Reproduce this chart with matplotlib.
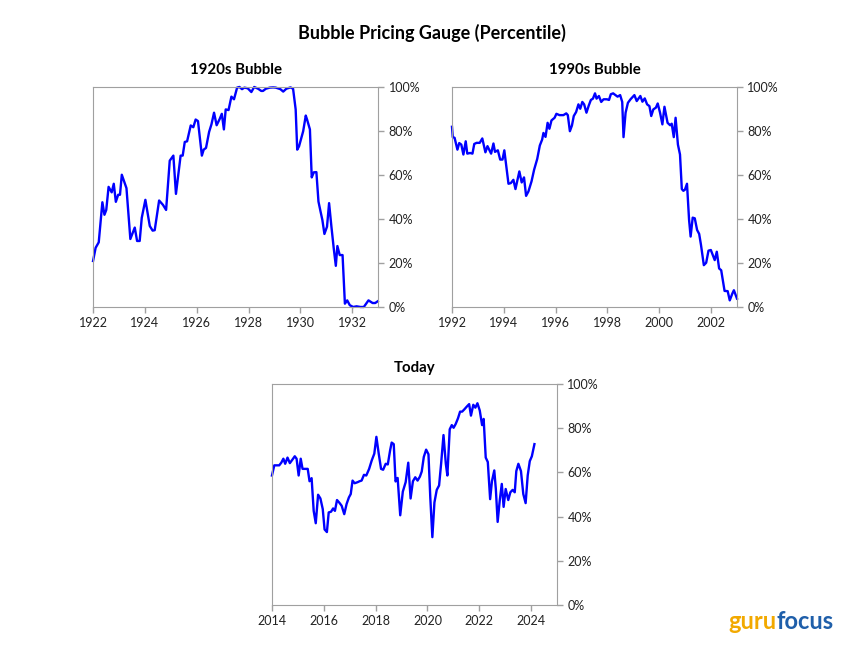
import matplotlib.pyplot as plt
from matplotlib.ticker import PercentFormatter

plt.rcParams['font.family'] = ['Lato', 'DejaVu Sans']

# 1920s bubble (decimal year, percentile)
yr_1920s = [1922.00, 1922.10, 1922.22, 1922.36, 1922.44, 1922.51, 1922.60, 1922.72, 1922.80, 1922.88,
            1922.97, 1923.04, 1923.11, 1923.29, 1923.44, 1923.61, 1923.70, 1923.80, 1923.88, 1924.02,
            1924.19, 1924.30, 1924.38, 1924.55, 1924.70, 1924.82, 1924.96, 1925.10, 1925.20, 1925.38,
            1925.46, 1925.54, 1925.63, 1925.77, 1925.87, 1925.96, 1926.05, 1926.20, 1926.27, 1926.36,
            1926.48, 1926.57, 1926.67, 1926.77, 1926.89, 1926.97, 1927.05, 1927.12, 1927.23, 1927.34,
            1927.44, 1927.56, 1927.65, 1927.75, 1927.84, 1927.97, 1928.11, 1928.22, 1928.37, 1928.49,
            1928.56, 1928.67, 1928.82, 1928.95, 1929.05, 1929.23, 1929.34, 1929.46, 1929.62, 1929.72,
            1929.82, 1929.88, 1929.95, 1930.11, 1930.21, 1930.26, 1930.37, 1930.44, 1930.52, 1930.62,
            1930.70, 1930.78, 1930.85, 1930.93, 1931.03, 1931.11, 1931.20, 1931.29, 1931.37, 1931.43,
            1931.52, 1931.63, 1931.72, 1931.81, 1931.91, 1932.04, 1932.17, 1932.32, 1932.45, 1932.63,
            1932.79, 1932.89, 1932.99]
pct_1920s = [20.9, 26.9, 29.4, 47.6, 41.9, 44.1, 54.6, 52.1, 56.0, 47.8,
             51.0, 51.0, 60.1, 54.0, 30.9, 36.1, 30.0, 30.0, 40.5, 48.7,
             36.8, 34.7, 34.9, 48.4, 46.4, 44.1, 66.5, 68.8, 51.4, 68.8,
             68.8, 75.0, 75.3, 82.5, 81.7, 85.2, 84.5, 68.8, 71.5, 72.3,
             79.6, 83.0, 88.3, 82.6, 85.5, 87.8, 80.7, 89.8, 89.5, 95.6,
             94.4, 99.7, 100.0, 99.0, 99.7, 99.4, 97.7, 100.0, 99.2, 98.2,
             98.2, 99.2, 99.7, 99.8, 99.7, 99.0, 97.9, 99.2, 99.8, 99.2,
             89.8, 71.5, 73.0, 79.9, 87.0, 85.2, 80.7, 58.9, 61.2, 61.3,
             47.9, 43.4, 39.6, 33.2, 36.5, 47.2, 36.5, 26.6, 18.7, 27.7,
             23.6, 23.6, 1.5, 3.0, 0.8, 0.0, 0.3, 0.0, 0.0, 3.0,
             1.8, 1.8, 2.6]

# 1990s bubble
yr_1990s = [1992.00, 1992.03, 1992.10, 1992.21, 1992.28, 1992.36, 1992.44, 1992.53, 1992.59, 1992.70,
            1992.79, 1992.86, 1992.95, 1993.07, 1993.17, 1993.29, 1993.37, 1993.51, 1993.60, 1993.66,
            1993.77, 1993.86, 1993.95, 1994.02, 1994.18, 1994.27, 1994.37, 1994.45, 1994.60, 1994.69,
            1994.78, 1994.86, 1994.95, 1995.07, 1995.17, 1995.29, 1995.39, 1995.48, 1995.53, 1995.61,
            1995.69, 1995.76, 1995.84, 1995.96, 1996.03, 1996.15, 1996.30, 1996.41, 1996.47, 1996.55,
            1996.63, 1996.70, 1996.79, 1996.88, 1996.95, 1997.03, 1997.10, 1997.19, 1997.28, 1997.36,
            1997.44, 1997.52, 1997.58, 1997.67, 1997.76, 1997.85, 1997.98, 1998.06, 1998.13, 1998.22,
            1998.31, 1998.39, 1998.49, 1998.57, 1998.62, 1998.70, 1998.79, 1998.89, 1999.04, 1999.13,
            1999.27, 1999.35, 1999.44, 1999.53, 1999.62, 1999.69, 1999.77, 1999.87, 1999.94, 2000.03,
            2000.12, 2000.20, 2000.32, 2000.42, 2000.48, 2000.56, 2000.63, 2000.72, 2000.80, 2000.87,
            2000.93, 2000.99, 2001.07, 2001.15, 2001.21, 2001.29, 2001.37, 2001.46, 2001.54, 2001.61,
            2001.72, 2001.81, 2001.90, 2001.99, 2002.14, 2002.22, 2002.31, 2002.39, 2002.52, 2002.64,
            2002.72, 2002.82, 2002.88, 2003.00]
pct_1990s = [81.9, 77.2, 76.9, 71.5, 74.5, 73.8, 69.3, 75.3, 69.7, 70.0,
             69.7, 74.1, 74.6, 74.6, 76.6, 70.3, 73.1, 69.7, 74.3, 70.5,
             71.2, 67.0, 67.0, 71.2, 56.0, 56.3, 57.8, 53.6, 61.6, 56.6,
             58.9, 50.5, 52.5, 57.1, 62.4, 67.3, 73.4, 76.1, 79.1, 77.3,
             83.7, 81.0, 84.8, 86.0, 87.8, 87.2, 87.2, 88.0, 87.2, 79.9,
             82.5, 86.8, 88.6, 92.1, 90.1, 93.2, 92.1, 88.3, 91.6, 94.1,
             94.7, 97.1, 94.7, 95.9, 93.2, 94.4, 94.4, 94.1, 96.7, 97.1,
             96.3, 95.6, 96.3, 93.2, 77.2, 88.3, 92.8, 94.4, 96.3, 93.6,
             95.9, 93.3, 94.8, 92.1, 91.3, 86.8, 89.8, 90.6, 92.5, 88.3,
             83.0, 91.0, 83.7, 82.6, 83.3, 77.2, 86.0, 73.8, 69.3, 53.6,
             52.8, 53.3, 56.0, 39.6, 32.0, 40.6, 40.3, 35.0, 33.2, 28.2,
             19.0, 20.1, 25.6, 25.9, 21.3, 25.1, 17.5, 16.7, 7.3, 7.2,
             3.0, 6.1, 7.6, 3.8]

# today
yr_today = [2014.00, 2014.09, 2014.28, 2014.36, 2014.44, 2014.51, 2014.60, 2014.69, 2014.79, 2014.88,
            2014.95, 2015.03, 2015.11, 2015.18, 2015.29, 2015.38, 2015.45, 2015.53, 2015.61, 2015.69,
            2015.78, 2015.87, 2015.96, 2016.03, 2016.12, 2016.19, 2016.28, 2016.36, 2016.43, 2016.51,
            2016.60, 2016.69, 2016.79, 2016.88, 2016.97, 2017.04, 2017.11, 2017.19, 2017.31, 2017.38,
            2017.46, 2017.55, 2017.64, 2017.75, 2017.85, 2017.95, 2018.03, 2018.12, 2018.21, 2018.29,
            2018.39, 2018.47, 2018.56, 2018.62, 2018.70, 2018.77, 2018.85, 2018.95, 2019.05, 2019.16,
            2019.26, 2019.35, 2019.44, 2019.53, 2019.62, 2019.71, 2019.78, 2019.86, 2019.95, 2020.04,
            2020.11, 2020.19, 2020.27, 2020.36, 2020.45, 2020.53, 2020.62, 2020.71, 2020.77, 2020.86,
            2020.94, 2021.01, 2021.09, 2021.18, 2021.26, 2021.34, 2021.43, 2021.52, 2021.61, 2021.68,
            2021.77, 2021.85, 2021.93, 2022.02, 2022.11, 2022.17, 2022.25, 2022.33, 2022.42, 2022.49,
            2022.58, 2022.64, 2022.71, 2022.79, 2022.87, 2022.94, 2023.02, 2023.12, 2023.20, 2023.29,
            2023.37, 2023.43, 2023.51, 2023.61, 2023.70, 2023.79, 2023.87, 2023.95, 2024.03, 2024.13]
pct_today = [58.6, 63.2, 63.2, 64.4, 66.2, 63.9, 66.7, 64.2, 65.8, 67.3,
             66.2, 58.6, 66.2, 61.6, 61.6, 61.6, 56.0, 57.4, 42.6, 37.0,
             49.9, 48.2, 43.4, 34.2, 33.0, 41.9, 42.2, 43.7, 42.6, 47.5,
             46.3, 44.9, 41.1, 45.7, 48.7, 50.2, 56.3, 55.1, 55.6, 56.0,
             56.3, 58.9, 58.6, 61.6, 65.4, 68.5, 76.1, 68.5, 61.6, 61.2,
             63.9, 63.6, 70.0, 73.5, 72.8, 55.9, 57.5, 40.6, 51.3, 55.6,
             64.4, 48.2, 56.0, 57.8, 56.3, 58.1, 60.4, 67.0, 70.3, 68.2,
             48.7, 30.7, 46.4, 52.1, 54.1, 64.2, 76.9, 63.9, 58.6, 79.5,
             81.4, 80.2, 81.9, 84.5, 87.5, 87.5, 88.6, 89.8, 90.9, 85.7,
             90.6, 89.3, 91.3, 88.0, 81.4, 84.2, 66.7, 64.7, 47.9, 56.0,
             60.9, 52.5, 37.6, 47.2, 54.8, 44.4, 52.5, 47.5, 51.0, 52.1,
             51.0, 60.6, 63.9, 60.6, 50.2, 46.1, 58.6, 65.1, 67.3, 72.8]

panels = [
    ('1920s Bubble', yr_1920s, pct_1920s, 1922, [0.1105, 0.527, 0.3385, 0.339]),
    ('1990s Bubble', yr_1990s, pct_1990s, 1992, [0.5368, 0.527, 0.3385, 0.339]),
    ('Today', yr_today, pct_today, 2014, [0.323, 0.0678, 0.3385, 0.3405]),
]

fig = plt.figure(figsize=(8.42, 6.49), dpi=100)
fig.text(0.5125, 0.949, 'Bubble Pricing Gauge (Percentile)', ha='center', va='center',
         fontsize=13, fontweight='bold')

grey = '#A0A0A0'
for title, x, y, start, rect in panels:
    ax = fig.add_axes(rect)
    ax.plot(x, y, color='#0000FF', lw=1.7, clip_on=False)
    ax.set_xlim(start, start + 11)
    ax.set_ylim(0, 100)
    ax.set_xticks(range(start, start + 11, 2))
    ax.set_yticks(range(0, 101, 20))
    ax.yaxis.set_major_formatter(PercentFormatter(decimals=0))
    ax.yaxis.tick_right()
    ax.tick_params(axis='both', colors=grey, labelcolor='#222222', labelsize=9, length=4, width=1)
    for s in ax.spines.values():
        s.set_color(grey)
    ax.set_title(title, fontsize=10.8, fontweight='bold', pad=9)

# gurufocus logo as text
logo = fig.add_axes([0, 0, 1, 1])
logo.axis('off')
guru = logo.text(0.865, 0.043, 'guru', color='#F2A900', fontsize=17, fontweight='bold',
                 ha='left', va='center')
logo.annotate('focus', xy=(1, 0), xycoords=guru, color='#1F5FAA', fontsize=17,
              fontweight='bold', ha='left', va='bottom')

fig.savefig('out.png', dpi=100)
